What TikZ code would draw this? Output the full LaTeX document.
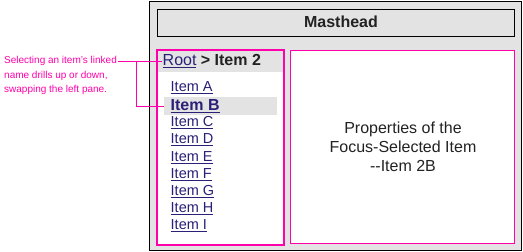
\documentclass[tikz,border=0pt]{standalone}
\usepackage{fontspec}
\setmainfont{Liberation Sans}
\usepackage{tikz}
\usetikzlibrary{positioning,calc}
\definecolor{PaneMagenta}{RGB}{255,0,170}
\definecolor{ShellGray}{RGB}{227,227,227}
\definecolor{LinkBlue}{RGB}{42,32,120}
\definecolor{BodyText}{RGB}{34,34,34}
\tikzset{shell/.style={draw=black,line width=1pt,fill=ShellGray,anchor=north west,inner sep=0pt},
  pane/.style={draw=PaneMagenta,line width=1.1pt,fill=white,anchor=north west,inner sep=0pt},
  band/.style={fill=ShellGray,anchor=north west,inner sep=0pt},
  item/.style={anchor=west,inner sep=0.5pt,text=LinkBlue,font=\fontsize{14.5}{16}\selectfont},
  note/.style={anchor=west,inner sep=1pt,text=PaneMagenta,font=\fontsize{10}{12}\selectfont},
  callout/.style={draw=PaneMagenta,line width=1pt}}

\begin{document}
\begin{tikzpicture}[x=1pt,y=-1pt]
\useasboundingbox (0,0) rectangle (523,252);
\node[shell,minimum width=372,minimum height=249] (frame) at (149,1) {};
\node[shell,minimum width=357,minimum height=27] (masthead) at (157,9) {};
\node[font=\fontsize{16}{18}\selectfont\bfseries,text=BodyText] (mastlabel) at (341,22) {Masthead};
\node[pane,minimum width=126,minimum height=194] (left) at (157,50) {};
\node[pane,minimum width=224,minimum height=193] (right) at (290,50) {};
\node[band,minimum width=125,minimum height=21.5] (crumbband) at (157.5,50.5) {};
\draw[draw=PaneMagenta,line width=1.1pt] (left.north west) rectangle (left.south east);
\node[anchor=west,inner sep=0.5pt,font=\fontsize{16}{18}\selectfont] (crumb) at (162,61)
  {\textcolor{LinkBlue}{\underline{Root}} \textcolor{BodyText}{\textbf{> Item 2}}};
\node[band,minimum width=113,minimum height=18] (selband) at (164,97) {};
\node[item] (item-A) at (170,88) {\underline{Item A}};
\node[item,font=\fontsize{16}{18}\selectfont\bfseries] (item-B) at (170,106) {\underline{Item B}};
\foreach \ltr/\yy in {C/123,D/140,E/157.5,F/175,G/192,H/209,I/226}
  \node[item] (item-\ltr) at (170,\yy) {\underline{Item \ltr}};
\node[align=center,text=BodyText,font=\fontsize{16}{19}\selectfont] (props) at (403,147)
  {Properties of the\\Focus-Selected Item\\{-}{-}Item 2B};
\node[note] (note1) at (3,61) {Selecting an item's linked};
\node[note] (note2) at (3,75.5) {name drills up or down,};
\node[note] (note3) at (3,90) {swapping the left pane.};
\coordinate (fork) at (136,61);
\draw[callout] (note1.east) -- (crumb.west);
\draw[callout] (fork) |- (selband.west);
\end{tikzpicture}
\end{document}
